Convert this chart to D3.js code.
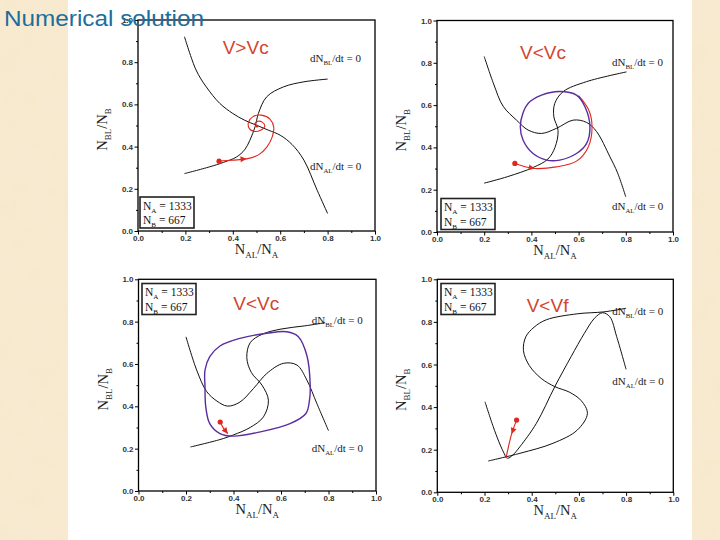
<!DOCTYPE html>
<html><head><meta charset="utf-8">
<script src="https://cdn.jsdelivr.net/npm/d3@7"></script>
<style>html,body{margin:0;padding:0;background:#f6e6c8;} svg{display:block}</style>
</head><body>
<svg id="c" width="720" height="540"></svg>
<script>
// ---------------- data ----------------
const titleText = "Numerical solution";
const majorTicks = [0, 0.2, 0.4, 0.6, 0.8, 1.0];
const minorTicks = [0.1, 0.3, 0.5, 0.7, 0.9];
const panelLabels = ["V>Vc", "V<Vc", "V<Vc", "V<Vf"];
const legendNA = 1333;
const legendNB = 667;

// panel 1 (V > Vc)
const p1NullAL = [[0.196,0.921],[0.245,0.763],[0.288,0.683],[0.345,0.605],[0.40,0.557],[0.45,0.525],[0.503,0.50],[0.55,0.478],[0.60,0.454],[0.65,0.41],[0.70,0.336],[0.756,0.193],[0.80,0.083]];
const p1NullBL = [[0.196,0.272],[0.302,0.304],[0.36,0.325],[0.416,0.351],[0.45,0.385],[0.472,0.43],[0.494,0.494],[0.508,0.557],[0.543,0.636],[0.614,0.683],[0.70,0.707],[0.80,0.72]];
const p1Traj = [[0.342,0.331],[0.40,0.336],[0.458,0.342],[0.51,0.362],[0.545,0.40],[0.566,0.445],[0.573,0.49],[0.557,0.53],[0.52,0.549],[0.485,0.542],[0.466,0.515],[0.47,0.485],[0.49,0.472],[0.515,0.476],[0.535,0.497],[0.524,0.516],[0.505,0.52],[0.492,0.506],[0.502,0.498]];
const p1Cycle = [];
const p1Arrow = [[0.40,0.337],[0.458,0.342]];

// panel 2 (V < Vc)
const p2NullAL = [[0.20,0.83],[0.24,0.70],[0.28,0.595],[0.337,0.529],[0.386,0.482],[0.443,0.466],[0.506,0.49],[0.577,0.529],[0.634,0.518],[0.676,0.475],[0.733,0.355],[0.765,0.28],[0.80,0.166]];
const p2NullBL = [[0.20,0.231],[0.30,0.262],[0.407,0.305],[0.47,0.345],[0.50,0.40],[0.513,0.48],[0.495,0.545],[0.499,0.608],[0.535,0.664],[0.634,0.711],[0.803,0.757]];
const p2Cycle = [[0.353,0.498],[0.365,0.565],[0.386,0.608],[0.443,0.647],[0.52,0.664],[0.591,0.647],[0.627,0.592],[0.648,0.498],[0.634,0.419],[0.591,0.371],[0.52,0.34],[0.464,0.34],[0.407,0.371],[0.365,0.434]];
const p2Traj = [[0.33,0.324],[0.37,0.31],[0.414,0.30],[0.506,0.308],[0.591,0.335],[0.64,0.40],[0.657,0.498],[0.643,0.577],[0.60,0.645]];
const p2Arrow = [[0.37,0.31],[0.414,0.30]];

// panel 3 (V < Vc)
const p3NullAL = [[0.20,0.728],[0.245,0.571],[0.287,0.47],[0.33,0.425],[0.375,0.401],[0.427,0.42],[0.484,0.484],[0.54,0.555],[0.61,0.603],[0.667,0.595],[0.709,0.524],[0.751,0.413],[0.80,0.285]];
const p3NullBL = [[0.219,0.208],[0.343,0.243],[0.40,0.265],[0.47,0.30],[0.526,0.35],[0.547,0.429],[0.52,0.50],[0.475,0.56],[0.456,0.63],[0.47,0.70],[0.52,0.74],[0.60,0.765],[0.70,0.78],[0.786,0.795]];
const p3Cycle = [[0.28,0.492],[0.28,0.571],[0.30,0.635],[0.343,0.685],[0.427,0.721],[0.54,0.745],[0.624,0.752],[0.673,0.729],[0.709,0.64],[0.723,0.50],[0.72,0.43],[0.705,0.366],[0.638,0.318],[0.512,0.279],[0.40,0.259],[0.343,0.271],[0.30,0.318],[0.283,0.40]];
const p3Traj = [[0.344,0.326],[0.358,0.296],[0.376,0.271]];
const p3Arrow = [[0.358,0.296],[0.376,0.271]];

// panel 4 (V < Vf)
const p4NullAL = [[0.202,0.425],[0.237,0.308],[0.26,0.24],[0.28,0.19],[0.297,0.16],[0.32,0.175],[0.35,0.214],[0.42,0.324],[0.498,0.496],[0.567,0.637],[0.623,0.746],[0.666,0.817],[0.70,0.843],[0.731,0.824],[0.76,0.731],[0.80,0.577]];
const p4NullBL = [[0.216,0.147],[0.35,0.183],[0.49,0.23],[0.593,0.292],[0.636,0.37],[0.61,0.43],[0.56,0.47],[0.498,0.496],[0.44,0.535],[0.39,0.595],[0.365,0.665],[0.375,0.73],[0.41,0.775],[0.462,0.81],[0.593,0.838],[0.705,0.847],[0.80,0.864]];
const p4Cycle = [];
const p4Traj = [[0.336,0.339],[0.315,0.274],[0.291,0.16]];
const p4Arrow = [[0.336,0.339],[0.315,0.274]];

// ---------------- layout ----------------
const panels = [
  {box:[138,20,237,211], al:p1NullAL, bl:p1NullBL, cyc:p1Cycle, traj:p1Traj, arrow:p1Arrow, label:panelLabels[0],
   lab:[222.7,53.5], legend:[140,197,'bottom'], blPos:[310,62], alPos:[310,170], center:true},
  {box:[437,20.5,236,211.5], al:p2NullAL, bl:p2NullBL, cyc:p2Cycle, traj:p2Traj, arrow:p2Arrow, label:panelLabels[1],
   lab:[520,58.5], legend:[441,198.5], blPos:[612,66], alPos:[612,209.5]},
  {box:[138.5,279.3,237.5,211.7], al:p3NullAL, bl:p3NullBL, cyc:p3Cycle, traj:p3Traj, arrow:p3Arrow, label:panelLabels[2],
   lab:[233.3,309.5], legend:[142,283.5], blPos:[311.7,324], alPos:[311.7,452]},
  {box:[437.3,279.3,236,213], al:p4NullAL, bl:p4NullBL, cyc:p4Cycle, traj:p4Traj, arrow:p4Arrow, label:panelLabels[3],
   lab:[526.7,312], legend:[441,283.5], blPos:[612.3,315], alPos:[612.3,385]}
];

const svg = d3.select("#c");
const defs = svg.append("defs");
const f = defs.append("filter").attr("id","parch").attr("x",0).attr("y",0).attr("width","100%").attr("height","100%");
f.append("feTurbulence").attr("type","fractalNoise").attr("baseFrequency","0.035").attr("numOctaves",4).attr("seed",7).attr("result","n");
f.append("feColorMatrix").attr("in","n").attr("type","matrix")
  .attr("values","0 0 0 0 0.90  0 0 0 0 0.78  0 0 0 0 0.56  1.1 0 0 0 -0.42");

svg.append("rect").attr("width",720).attr("height",540).attr("fill","#f8ead0");
svg.append("rect").attr("width",720).attr("height",540).attr("filter","url(#parch)").attr("opacity",0.55);
svg.append("rect").attr("x",68).attr("y",0).attr("width",624).attr("height",540).attr("fill","#ffffff");

const RED = "#e0261e", PURPLE = "#5a2d9e", LABEL = "#d2452e";

function subText(sel, parts, fs) {
  // parts: [text, isSub]
  let prevSub = false;
  parts.forEach(([t, sub]) => {
    const ts = sel.append("tspan").text(t);
    if (sub) { ts.attr("font-size", fs*0.62).attr("dy", fs*0.28); }
    else { ts.attr("font-size", fs); if (prevSub) ts.attr("dy", -fs*0.28); }
    prevSub = sub;
  });
}

panels.forEach(p => {
  const [L,T,W,H] = p.box;
  const x = d3.scaleLinear().domain([0,1]).range([L, L+W]);
  const y = d3.scaleLinear().domain([0,1]).range([T+H, T]);
  const g = svg.append("g");

  // axes
  const fmt = d3.format(".1f");
  const ax = g.append("g").attr("transform",`translate(0,${T+H})`)
    .call(d3.axisBottom(x).tickValues(majorTicks).tickSize(3.5).tickPadding(0.5).tickFormat(fmt));
  const axm = g.append("g").attr("transform",`translate(0,${T+H})`)
    .call(d3.axisBottom(x).tickValues(minorTicks).tickSize(2).tickFormat(""));
  const ay = g.append("g").attr("transform",`translate(${L},0)`)
    .call(d3.axisLeft(y).tickValues(majorTicks).tickSize(3.5).tickPadding(1.5).tickFormat(fmt));
  const aym = g.append("g").attr("transform",`translate(${L},0)`)
    .call(d3.axisLeft(y).tickValues(minorTicks).tickSize(2).tickFormat(""));
  [ax,axm,ay,aym].forEach(a => {
    a.select(".domain").remove();
    a.selectAll("line").attr("stroke","#000").attr("stroke-width",1);
    a.selectAll("text").attr("font-family","Arial, 'Liberation Sans', sans-serif").attr("font-size",8)
      .attr("font-weight","bold").attr("fill","#333");
  });

  // frame
  g.append("rect").attr("x",L).attr("y",T).attr("width",W).attr("height",H)
    .attr("fill","none").attr("stroke","#000").attr("stroke-width",1.3);

  const line = d3.line().x(d=>x(d[0])).y(d=>y(d[1])).curve(d3.curveCatmullRom.alpha(0.5));
  const lineC = d3.line().x(d=>x(d[0])).y(d=>y(d[1])).curve(d3.curveCatmullRomClosed.alpha(0.5));

  // nullclines
  [p.al, p.bl].forEach(arr => {
    g.append("path").attr("d", line(arr)).attr("fill","none").attr("stroke","#111").attr("stroke-width",1);
  });

  // trajectory
  g.append("path").attr("d", line(p.traj)).attr("fill","none").attr("stroke",RED).attr("stroke-width",1.1);
  // limit cycle
  if (p.cyc.length) {
    g.append("path").attr("d", lineC(p.cyc)).attr("fill","none").attr("stroke",PURPLE).attr("stroke-width",1.4);
  }
  // start marker
  g.append("circle").attr("cx", x(p.traj[0][0])).attr("cy", y(p.traj[0][1])).attr("r",2.6).attr("fill",RED);
  // arrow head
  const [a0,a1] = p.arrow;
  const ang = Math.atan2(y(a1[1])-y(a0[1]), x(a1[0])-x(a0[0])) * 180/Math.PI;
  g.append("path").attr("d","M0,0 L-6,-3 L-6,3 Z").attr("fill",RED)
    .attr("transform",`translate(${x(a1[0])},${y(a1[1])}) rotate(${ang})`);
  if (p.center) {
    const last = p.traj[p.traj.length-1];
    g.append("circle").attr("cx",x(last[0])).attr("cy",y(last[1])).attr("r",1.5).attr("fill",RED);
  }

  // annotations
  const tf = "'Times New Roman', 'Liberation Serif', 'DejaVu Serif', serif";
  const tBL = g.append("text").attr("x",p.blPos[0]).attr("y",p.blPos[1]).attr("font-family",tf).attr("fill","#222");
  subText(tBL, [["dN",false],["BL",true],["/dt = 0",false]], 11);
  const tAL = g.append("text").attr("x",p.alPos[0]).attr("y",p.alPos[1]).attr("font-family",tf).attr("fill","#222");
  subText(tAL, [["dN",false],["AL",true],["/dt = 0",false]], 11);

  // legend box
  const [lx,ly] = p.legend;
  g.append("rect").attr("x",lx).attr("y",ly).attr("width",54).attr("height",31)
    .attr("fill","#fff").attr("stroke","#222").attr("stroke-width",1.6);
  const l1 = g.append("text").attr("x",lx+3).attr("y",ly+12.5).attr("font-family",tf).attr("fill","#111");
  subText(l1, [["N",false],["A",true],[" = " + legendNA,false]], 11.5);
  const l2 = g.append("text").attr("x",lx+3).attr("y",ly+27).attr("font-family",tf).attr("fill","#111");
  subText(l2, [["N",false],["B",true],[" = " + legendNB,false]], 11.5);

  // axis titles
  const xt = g.append("text").attr("x", L+W/2).attr("y", T+H+23).attr("text-anchor","middle")
    .attr("font-family",tf).attr("fill","#222");
  subText(xt, [["N",false],["AL",true],["/N",false],["A",true]], 14.5);
  const yt = g.append("text").attr("transform",`translate(${L-31},${T+H/2+4}) rotate(-90)`).attr("text-anchor","middle")
    .attr("font-family",tf).attr("fill","#222");
  subText(yt, [["N",false],["BL",true],["/N",false],["B",true]], 14.5);

  // V label
  g.append("text").attr("x",p.lab[0]).attr("y",p.lab[1]).attr("font-family","Arial, 'Liberation Sans', sans-serif")
    .attr("font-size",19).attr("fill",LABEL).text(p.label);
});

// title
svg.append("text").attr("x",4).attr("y",26).attr("font-family","Arial, 'Liberation Sans', sans-serif")
  .attr("font-size",22).attr("fill","#1d6d9d").attr("textLength",200).attr("lengthAdjust","spacingAndGlyphs")
  .text(titleText);
</script>
</body></html>
